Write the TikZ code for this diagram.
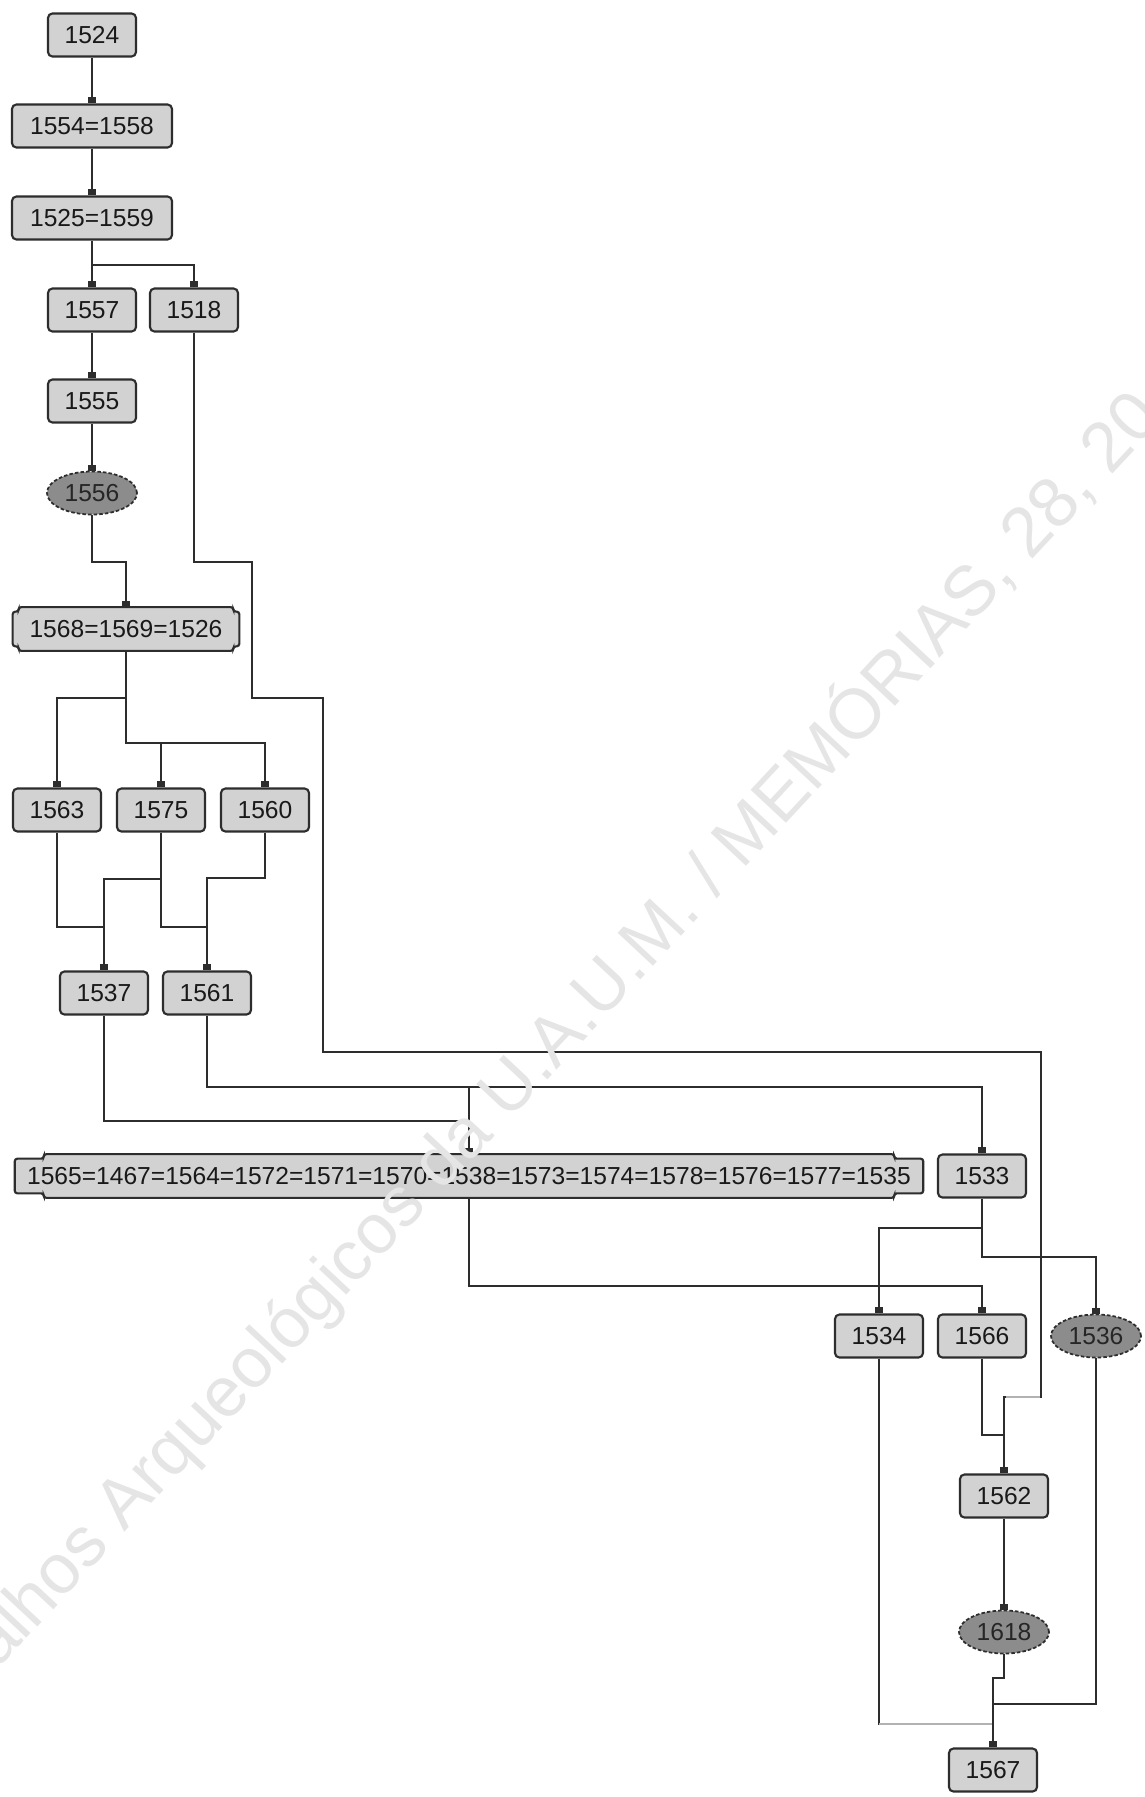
\documentclass[tikz,border=0pt]{standalone}
\usepackage{fontspec}
\setmainfont{Liberation Sans}
\usetikzlibrary{arrows.meta,shapes.geometric,backgrounds}
\definecolor{boxgrey}{RGB}{210,210,210}
\definecolor{ovalgrey}{RGB}{140,140,140}
\definecolor{inkgrey}{RGB}{45,45,45}
\definecolor{markgrey}{RGB}{229,229,229}
\newcommand{\unitfont}{\fontsize{14pt}{16pt}\selectfont}
% frame with short tabs at both ends, for the grouped units
\newcommand{\grpframe}[2]{%
  \draw[frame] ([xshift=#2]#1.north west) -- ([xshift=-#2]#1.north east)
    -- ([xshift=-#2,yshift=-0.09cm]#1.north east) -- ([yshift=-0.09cm]#1.north east)
    -- ([yshift=0.09cm]#1.south east) -- ([xshift=-#2,yshift=0.09cm]#1.south east)
    -- ([xshift=-#2]#1.south east) -- ([xshift=#2]#1.south west)
    -- ([xshift=#2,yshift=0.09cm]#1.south west) -- ([yshift=0.09cm]#1.south west)
    -- ([yshift=-0.09cm]#1.north west) -- ([xshift=#2,yshift=-0.09cm]#1.north west)
    -- cycle;}
\tikzset{
  unit/.style={draw=inkgrey, fill=boxgrey, line width=1.2pt, rounded corners=2.5pt,
               minimum width=1.76cm, minimum height=0.86cm, inner sep=0pt,
               font=\unitfont, text=black!90},
  wideunit/.style={unit, minimum width=#1},
  grpunit/.style={minimum width=#1, minimum height=0.86cm, inner sep=0pt,
                  font=\unitfont, text=black!90},
  frame/.style={draw=inkgrey, fill=boxgrey, line width=1.2pt, rounded corners=1.5pt},
  layer/.style={ellipse, draw=inkgrey, fill=ovalgrey, line width=1pt,
                dash pattern=on 2pt off 1.2pt, minimum width=1.8cm,
                minimum height=0.86cm, inner sep=0pt, font=\unitfont,
                text=black!85},
  link/.style={draw=inkgrey, line width=1.1pt, -{Square[length=3.4pt,width=4.8pt]}},
  faint/.style={draw=black!30, line width=1.1pt},
  watermark/.style={anchor=base west, rotate=47, inner sep=0pt, text=markgrey,
                    font=\fontsize{40pt}{42pt}\selectfont},
}
\begin{document}
\begin{tikzpicture}[x=0.02cm, y=-0.02cm]
\useasboundingbox (0,0) rectangle (1145,1797);

% units
\node[unit] (n1524) at (92,35) {1524};
\node[wideunit=3.2cm] (n1554) at (92,126) {1554=1558};
\node[wideunit=3.2cm] (n1525) at (92,218) {1525=1559};
\node[unit] (n1557) at (92,310) {1557};
\node[unit] (n1518) at (194,310) {1518};
\node[unit] (n1555) at (92,401) {1555};
\node[layer] (n1556) at (92,493) {1556};
\node[grpunit=4.52cm] (n1568) at (126,629) {1568=1569=1526};
\node[unit] (n1563) at (57,810) {1563};
\node[unit] (n1575) at (161,810) {1575};
\node[unit] (n1560) at (265,810) {1560};
\node[unit] (n1537) at (104,993) {1537};
\node[unit] (n1561) at (207,993) {1561};
\node[grpunit=18.16cm] (nbig) at (469,1176)
  {1565=1467=1564=1572=1571=1570=1538=1573=1574=1578=1576=1577=1535};
\node[unit] (n1533) at (982,1176) {1533};
\node[unit] (n1534) at (879,1336) {1534};
\node[unit] (n1566) at (982,1336) {1566};
\node[layer] (n1536) at (1096,1336) {1536};
\node[unit] (n1562) at (1004,1496) {1562};
\node[layer] (n1618) at (1004,1632) {1618};
\node[unit] (n1567) at (993,1770) {1567};

\begin{scope}[on background layer]
  \fill[white] (0,0) rectangle (1145,1797);
  \grpframe{n1568}{0.12cm}
  \grpframe{nbig}{0.58cm}
\end{scope}

% stratigraphic links
\draw[link] (n1524.south) -- (n1554.north);
\draw[link] (n1554.south) -- (n1525.north);
\draw[link] (n1525.south) -- (n1557.north);
\draw[link] (n1525.south) -- (n1525.south |- 0,265) -| (n1518.north);
\draw[link] (n1557.south) -- (n1555.north);
\draw[link] (n1555.south) -- (n1556.north);
\draw[link] (n1556.south) -- (n1556.south |- 0,562) -| (n1568.north);
\draw[link] (n1518.south) |- (252,562) |- (323,698) |- (1041,1052) |- (1004,1397)
  -- (n1562.north);
\draw[link] (n1568.south) -- (n1568.south |- 0,698) -| (n1563.north);
\draw[link] (n1568.south) -- (n1568.south |- 0,743) -| (n1575.north);
\draw[link] (n1568.south) -- (n1568.south |- 0,743) -| (n1560.north);
\draw[link] (n1563.south) -- (n1563.south |- 0,927) -| (n1537.north);
\draw[link] (n1575.south) -- (n1575.south |- 0,879) -| (n1537.north);
\draw[link] (n1575.south) -- (n1575.south |- 0,927) -| (n1561.north);
\draw[link] (n1560.south) -- (n1560.south |- 0,878) -| (n1561.north);
\draw[link] (n1537.south) -- (n1537.south |- 0,1121) -| (nbig.north);
\draw[link] (n1561.south) -- (n1561.south |- 0,1087) -| (nbig.north);
\draw[link] (n1561.south) -- (n1561.south |- 0,1087) -| (n1533.north);
\draw[link] (nbig.south) -- (nbig.south |- 0,1286) -| (n1566.north);
\draw[link] (n1533.south) -- (n1533.south |- 0,1228) -| (n1534.north);
\draw[link] (n1533.south) -- (n1533.south |- 0,1257) -| (n1536.north);
\draw[link] (n1566.south) -- (n1566.south |- 0,1435) -| (n1562.north);
\draw[link] (n1562.south) -- (n1618.north);
\draw[link] (n1618.south) -- (n1618.south |- 0,1678) -| (n1567.north);
\draw[link] (n1536.south) -- (n1536.south |- 0,1704) -| (n1567.north);
\draw[link] (n1534.south) -- (n1534.south |- 0,1724) -| (n1567.north);
\draw[faint] (n1534.south |- 0,1724) -- ([xshift=-0.03cm]n1567.north |- 0,1724);
\draw[faint] ([xshift=0.03cm]n1562.north |- 0,1397) -- (1040,1397);

\begin{scope}
  \clip (0,0) rectangle (1145,1797);
  \node[watermark] (mark) at (-100,1774)
    {Trabalhos Arqueológicos da U.A.U.M. / MEMÓRIAS, 28, 20};
\end{scope}
\end{tikzpicture}
\end{document}
